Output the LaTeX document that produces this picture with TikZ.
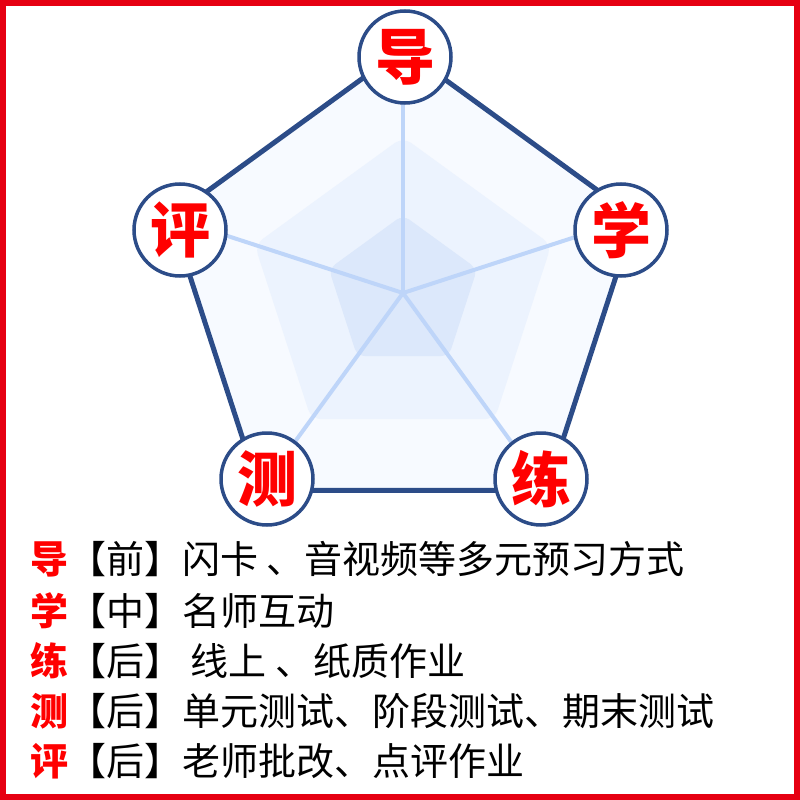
\documentclass[tikz,border=0pt]{standalone}
\usepackage{fontspec}
\setmainfont{Noto Sans CJK SC}
\newfontfamily\heavyhan{Noto Sans CJK SC Black}
\usetikzlibrary{calc}
\definecolor{framered}{HTML}{E60012}
\definecolor{navy}{HTML}{2C4C88}
\definecolor{webline}{HTML}{BED5F9}
\definecolor{fillA}{HTML}{F7FAFF}
\definecolor{fillB}{HTML}{ECF3FE}
\definecolor{fillC}{HTML}{DCE8FB}
\definecolor{hanred}{HTML}{FF0000}
\tikzset{
    vertex/.style={circle, draw=navy, line width=3.5pt, fill=white,
        minimum size=92pt, inner sep=0pt, text=hanred,
        font=\fontsize{60}{60}\selectfont\heavyhan},
    rowtext/.style={anchor=base west, inner sep=0pt,
        font=\fontsize{38}{38}\selectfont},
}
\newcommand{\keyword}[1]{{\color{hanred}\bfseries #1}}

\begin{document}
\begin{tikzpicture}[x=1pt,y=-1pt]
    \fill[white] (0,0) rectangle (800,800);
    \useasboundingbox (0,0) rectangle (800,800);
    \draw[framered, line width=6pt] (3,3) rectangle (797,797);

    \coordinate (O) at (403,293);
    \foreach \i/\a in {1/-90,2/-18,3/54,4/126,5/198}{
        \coordinate (P\i) at ($(O)+(\a:244)$);
        \coordinate (Q\i) at ($(O)+(\a:156)$);
        \coordinate (R\i) at ($(O)+(\a:78)$);
    }

    % radar layers
    \fill[fillA] (P1)--(P2)--(P3)--(P4)--(P5)--cycle;
    \fill[fillB, rounded corners=10pt] (Q1)--(Q2)--(Q3)--(Q4)--(Q5)--cycle;
    \fill[fillC, rounded corners=8pt] (R1)--(R2)--(R3)--(R4)--(R5)--cycle;
    \foreach \i in {1,...,5}
        \draw[webline, line width=4pt] (O) -- (P\i);
    \draw[navy, line width=5pt, line join=round]
        (P1)--(P2)--(P3)--(P4)--(P5)--cycle;

    \node[vertex] (dao) at (405,57) {导};
    \node[vertex] (xue) at (621,230) {学};
    \node[vertex] (lian) at (541,479) {练};
    \node[vertex] (ce) at (267,479) {测};
    \node[vertex] (ping) at (180,230) {评};

    % legend rows
    \node[rowtext] (row1) at (30,573) {\keyword{导}【前】闪卡 、音视频等多元预习方式};
    \node[rowtext] (row2) at (30,625) {\keyword{学}【中】名师互动};
    \node[rowtext] (row3) at (30,675) {\keyword{练}【后】 线上 、纸质作业};
    \node[rowtext] (row4) at (30,725) {\keyword{测}【后】单元测试、阶段测试、期末测试};
    \node[rowtext] (row5) at (30,775) {\keyword{评}【后】老师批改、点评作业};
\end{tikzpicture}
\end{document}
